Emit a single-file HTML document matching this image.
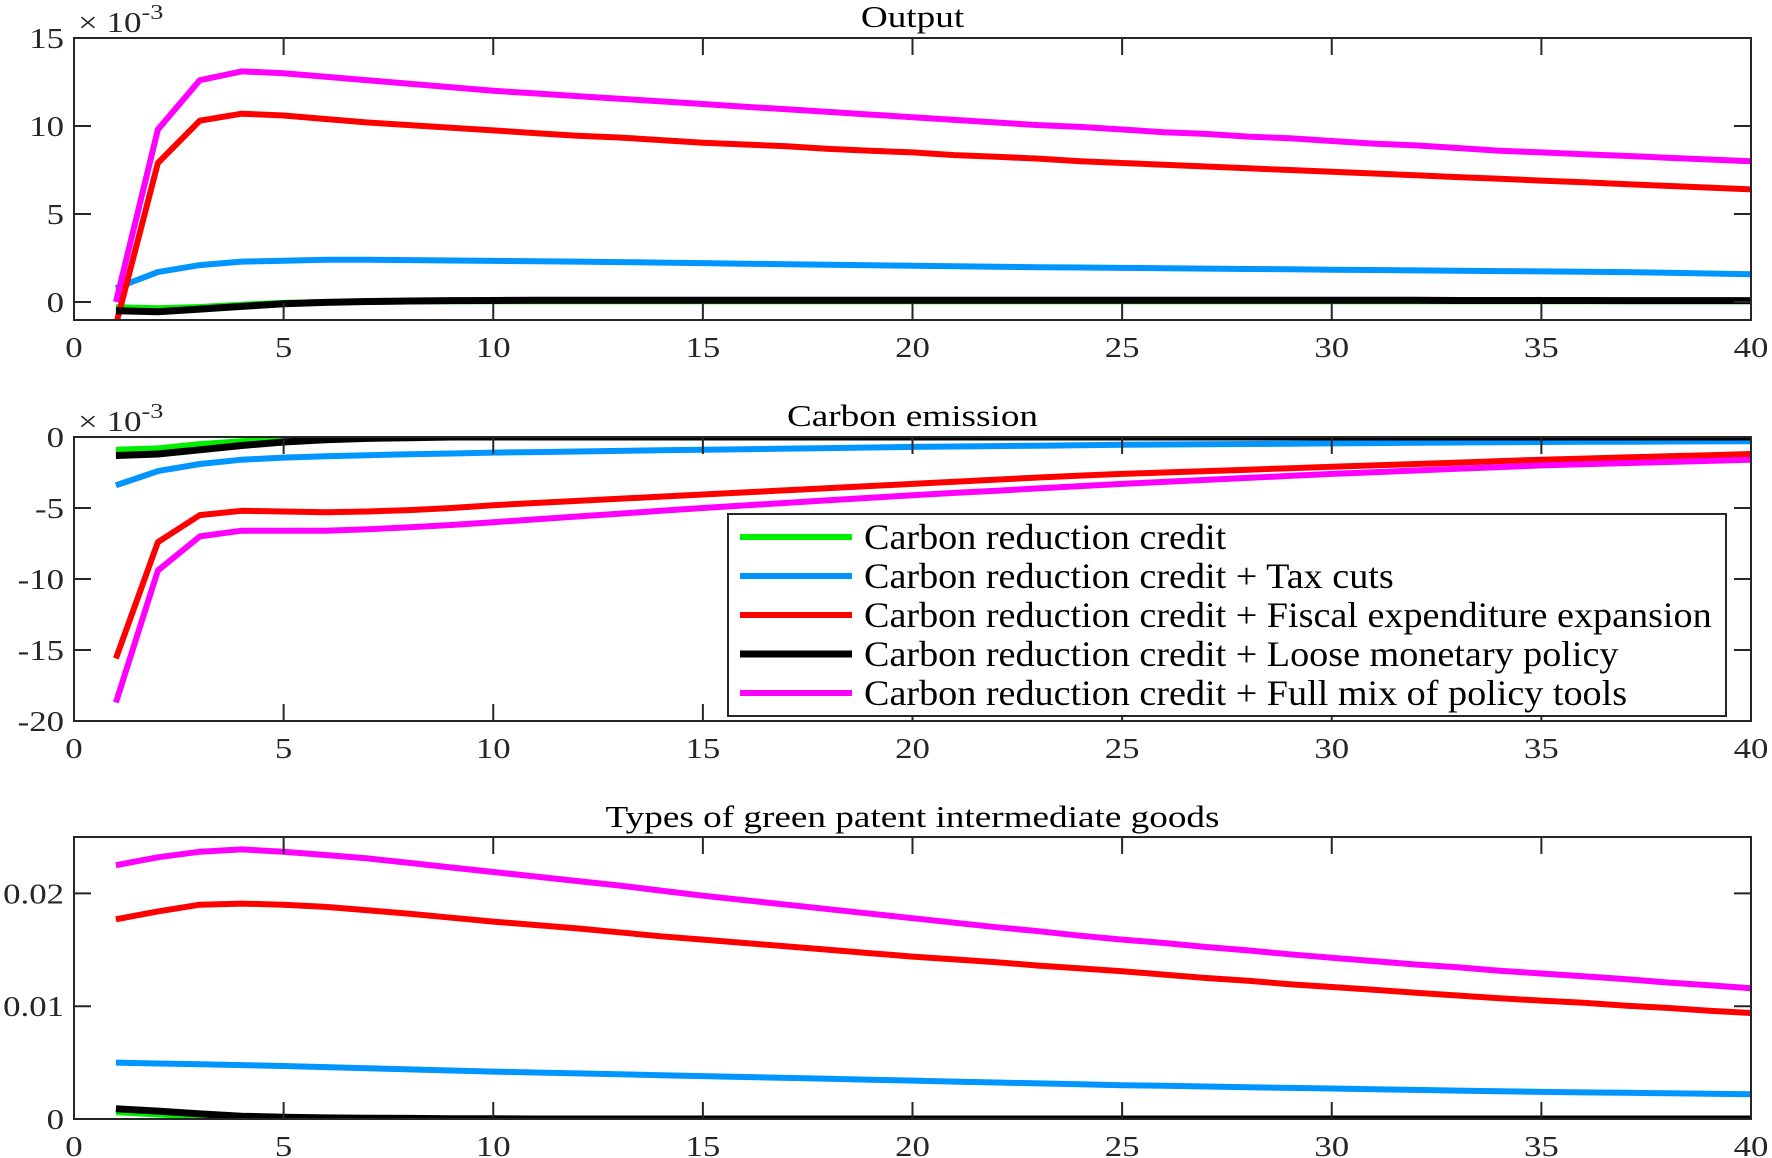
<!DOCTYPE html>
<html><head><meta charset="utf-8"><style>
html,body{margin:0;padding:0;background:#fff;}
svg{display:block;font-family:"Liberation Serif","Times New Roman",serif;}
</style></head><body>
<svg id="fig" width="1772" height="1158" viewBox="0 0 1772 1158"></svg>
<script>
const xs = Array.from({length:40},(_,i)=>i+1);
const seriesNames = ["Carbon reduction credit","Carbon reduction credit + Tax cuts","Carbon reduction credit + Fiscal expenditure expansion","Carbon reduction credit + Loose monetary policy","Carbon reduction credit + Full mix of policy tools"];
const xTicks = [0,5,10,15,20,25,30,35,40];

// Output (x1e-3)
const outGreen = [-0.3,-0.35,-0.28,-0.15,-0.05,0,0.02,0.03,0.04,0.04,0.05,0.05,0.05,0.05,0.05,0.05,0.05,0.05,0.05,0.05,0.05,0.05,0.05,0.05,0.05,0.05,0.05,0.05,0.05,0.05,0.05,0.05,0.05,0.05,0.05,0.05,0.05,0.05,0.05,0.05];
const outBlue = [0.8,1.7,2.1,2.3,2.35,2.4,2.4,2.38,2.36,2.34,2.32,2.3,2.27,2.24,2.21,2.18,2.15,2.12,2.09,2.06,2.03,2.0,1.98,1.96,1.94,1.92,1.9,1.88,1.86,1.84,1.82,1.8,1.78,1.76,1.74,1.72,1.7,1.66,1.62,1.58];
const outRed = [-1.3,7.9,10.3,10.7,10.6,10.4,10.2,10.05,9.9,9.75,9.6,9.45,9.35,9.2,9.05,8.95,8.85,8.7,8.6,8.5,8.35,8.25,8.15,8.0,7.9,7.8,7.7,7.6,7.5,7.4,7.3,7.2,7.1,7.0,6.9,6.8,6.7,6.6,6.5,6.4];
const outBlack = [-0.5,-0.55,-0.4,-0.25,-0.1,-0.02,0.03,0.06,0.08,0.09,0.1,0.1,0.1,0.1,0.1,0.1,0.1,0.1,0.1,0.1,0.1,0.1,0.1,0.1,0.1,0.1,0.1,0.1,0.1,0.1,0.1,0.1,0.09,0.09,0.09,0.09,0.08,0.08,0.08,0.08];
const outMagenta = [0,9.8,12.6,13.1,13.0,12.8,12.6,12.4,12.2,12.0,11.85,11.7,11.55,11.4,11.25,11.1,10.95,10.8,10.65,10.5,10.35,10.2,10.05,9.95,9.8,9.65,9.55,9.4,9.3,9.15,9.0,8.9,8.75,8.6,8.5,8.4,8.3,8.2,8.1,8.0];
const outTicks = [0,5,10,15];

// Carbon emission (x1e-3)
const ceGreen = [-0.9,-0.8,-0.5,-0.3,-0.1,0,0,0,0,0,0,0,0,0,0,0,0,0,0,0,0,0,0,0,0,0,0,0,0,0,0,0,0,0,0,0,0,0,0,0];
const ceBlue = [-3.4,-2.4,-1.9,-1.6,-1.45,-1.35,-1.28,-1.22,-1.16,-1.1,-1.06,-1.02,-0.98,-0.94,-0.9,-0.86,-0.82,-0.78,-0.74,-0.7,-0.67,-0.64,-0.61,-0.58,-0.55,-0.53,-0.51,-0.49,-0.47,-0.45,-0.43,-0.41,-0.39,-0.37,-0.35,-0.34,-0.33,-0.32,-0.31,-0.3];
const ceRed = [-15.6,-7.4,-5.5,-5.2,-5.25,-5.3,-5.25,-5.15,-5.0,-4.8,-4.65,-4.5,-4.35,-4.2,-4.05,-3.9,-3.75,-3.6,-3.45,-3.3,-3.15,-3.0,-2.85,-2.72,-2.6,-2.5,-2.4,-2.3,-2.2,-2.1,-2.0,-1.9,-1.8,-1.7,-1.6,-1.52,-1.44,-1.36,-1.28,-1.2];
const ceBlack = [-1.3,-1.2,-0.9,-0.6,-0.35,-0.2,-0.1,-0.05,0,0,0,0,0,0,0,0,0,0,0,0,0,0,0,0,0,0,0,0,0,0,0,0,0,0,0,0,0,0,0,0];
const ceMagenta = [-18.7,-9.4,-7.0,-6.6,-6.6,-6.6,-6.5,-6.35,-6.2,-6.0,-5.8,-5.6,-5.4,-5.2,-5.0,-4.82,-4.64,-4.46,-4.28,-4.1,-3.94,-3.78,-3.62,-3.46,-3.3,-3.16,-3.02,-2.88,-2.74,-2.6,-2.48,-2.36,-2.24,-2.12,-2.0,-1.92,-1.84,-1.76,-1.68,-1.6];
const ceTicks = [-20,-15,-10,-5,0];

// Green patent (x1e-3)
const gpGreen = [0.6,0.4,0.25,0.15,0.1,0.05,0.02,0,0,0,0,0,0,0,0,0,0,0,0,0,0,0,0,0,0,0,0,0,0,0,0,0,0,0,0,0,0,0,0,0];
const gpBlue = [5.0,4.92,4.85,4.78,4.7,4.6,4.5,4.4,4.3,4.2,4.12,4.04,3.96,3.88,3.8,3.72,3.64,3.56,3.48,3.4,3.32,3.24,3.16,3.08,3.0,2.94,2.88,2.82,2.76,2.7,2.64,2.58,2.52,2.46,2.4,2.36,2.32,2.28,2.24,2.2];
const gpRed = [17.7,18.4,19.0,19.1,19.0,18.8,18.5,18.2,17.85,17.5,17.2,16.9,16.55,16.2,15.9,15.6,15.3,15.0,14.7,14.4,14.15,13.9,13.6,13.35,13.1,12.8,12.5,12.25,11.95,11.7,11.45,11.2,10.95,10.7,10.5,10.3,10.05,9.85,9.6,9.4];
const gpBlack = [0.9,0.7,0.45,0.25,0.15,0.1,0.07,0.05,0.03,0.02,0,0,0,0,0,0,0,0,0,0,0,0,0,0,0,0,0,0,0,0,0,0,0,0,0,0,0,0,0,0];
const gpMagenta = [22.5,23.2,23.7,23.9,23.7,23.4,23.1,22.7,22.3,21.9,21.5,21.1,20.7,20.25,19.8,19.4,19.0,18.6,18.2,17.8,17.4,17.0,16.65,16.25,15.9,15.6,15.25,14.95,14.6,14.3,14.0,13.7,13.45,13.15,12.9,12.65,12.4,12.1,11.85,11.6];
const gpTicks = [0,10,20];
const gpTickLabels = ["0","0.01","0.02"];

const colors = ["#00ee00","#0095ff","#ff0000","#000000","#ff00ff"];
const widths = [6,6,6,7,6];
const NS = "http://www.w3.org/2000/svg";
const svg = document.getElementById('fig');
function mk(tag, attrs, parent){const e=document.createElementNS(NS,tag);for(const k in attrs)e.setAttribute(k,attrs[k]);(parent||svg).appendChild(e);return e;}
function txt(parent,x,y,anchor,size,sx,fill){
  return mk('text',{x:0,y:0,'text-anchor':anchor,'font-size':size,fill:fill,transform:'translate('+x+','+y+') scale('+sx+',1)'},parent);
}

const L=74,R=1751;
function xScale(v){return L+(v-0)/(40-0)*(R-L);}

function panel(cfg){
  const {top,bottom,ymin,ymax,yTicks,yLabels,series,title,titleY,name,multiplier,xLabelY}=cfg;
  const y=v=>bottom-(v-ymin)/(ymax-ymin)*(bottom-top);
  const g=mk('g',{});
  
  
  const cid='clip-'+name;
  const cp=mk('clipPath',{id:cid},g);
  mk('rect',{x:L,y:top,width:R-L,height:bottom-top},cp);
  const lg=mk('g',{'clip-path':'url(#'+cid+')'},g);
  series.forEach((s,i)=>{
    const d=xs.map((xv,j)=>(j?'L':'M')+xScale(xv).toFixed(1)+','+y(s[j]).toFixed(1)).join(' ');
    const p=mk('path',{d:d,fill:'none',stroke:colors[i],'stroke-width':widths[i],'stroke-linejoin':'round'},lg);
    
    
  });
  const ax=mk('rect',{x:L,y:top,width:R-L,height:bottom-top,fill:'none',stroke:'#262626','stroke-width':2},g);
  
  
  const tl=17;
  xTicks.forEach(t=>{
    const xp=xScale(t);
    mk('line',{x1:xp,x2:xp,y1:bottom,y2:bottom-tl,stroke:'#262626','stroke-width':2},g);
    mk('line',{x1:xp,x2:xp,y1:top,y2:top+tl,stroke:'#262626','stroke-width':2},g);
    const tx=txt(g,xp,xLabelY,'middle',29,1.2,'#262626');
    tx.textContent=t;
    
    
  });
  yTicks.forEach((t,i)=>{
    const yp=y(t);
    mk('line',{x1:L,x2:L+tl,y1:yp,y2:yp,stroke:'#262626','stroke-width':2},g);
    mk('line',{x1:R,x2:R-tl,y1:yp,y2:yp,stroke:'#262626','stroke-width':2},g);
    const tx=txt(g,L-10,yp+10,'end',29,1.2,'#262626');
    tx.textContent=yLabels[i];
    
    
  });
  const tt=txt(g,(L+R)/2,titleY,'middle',31,1.2,'#000');
  tt.textContent=title;
  
  
  if(multiplier){
    const m=txt(g,L+4,top-6,'start',28,1.25,'#262626');
    m.innerHTML='× 10<tspan dy="-13" font-size="21">-3</tspan>';
    
    
  }
}

panel({name:'output',top:38,bottom:320,ymin:-1.02,ymax:15,yTicks:outTicks,yLabels:outTicks.map(String),
  series:[outGreen,outBlue,outRed,outBlack,outMagenta],title:'Output',titleY:27,multiplier:true,xLabelY:357});
panel({name:'carbon-emission',top:437,bottom:721,ymin:-20,ymax:0,yTicks:ceTicks,yLabels:ceTicks.map(String),
  series:[ceGreen,ceBlue,ceRed,ceBlack,ceMagenta],title:'Carbon emission',titleY:426,multiplier:true,xLabelY:758});
panel({name:'green-patent',top:837,bottom:1119,ymin:0,ymax:25,yTicks:gpTicks,yLabels:gpTickLabels,
  series:[gpGreen,gpBlue,gpRed,gpBlack,gpMagenta],title:'Types of green patent intermediate goods',titleY:827,multiplier:false,xLabelY:1156});

// Legend
const lgd=mk('g',{});


mk('rect',{x:728,y:514,width:998,height:202,fill:'#fff',stroke:'#262626','stroke-width':2},lgd);
seriesNames.forEach((n,i)=>{
  const cy=537+i*39;
  const e=mk('g',{},lgd);
  
  
  mk('line',{x1:740,x2:852,y1:cy,y2:cy,stroke:colors[i],'stroke-width':widths[i]},e);
  const t=txt(e,864,cy+12,'start',36,1.06,'#000');
  t.textContent=n;
});
</script>
</body></html>
